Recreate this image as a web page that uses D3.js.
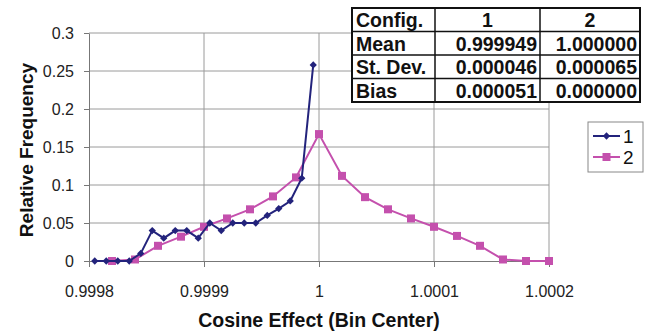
<!DOCTYPE html>
<html>
<head>
<meta charset="utf-8">
<script src="https://d3js.org/d3.v7.min.js"></script>
<style>
  body { margin: 0; background: #fff; }
  svg { display: block; font-family: "Liberation Sans", Arial, sans-serif; }
</style>
</head>
<body>
<svg width="648" height="331"></svg>
<script>
// series 1 (diamonds)
const x1 = [0.999805, 0.999815, 0.999825, 0.999835, 0.999845, 0.999855, 0.999865, 0.999875, 0.999885, 0.999895,
            0.999905, 0.999915, 0.999925, 0.999935, 0.999945, 0.999955, 0.999965, 0.999975, 0.999985, 0.999995];
const y1 = [0, 0, 0, 0, 0.01, 0.04, 0.03, 0.04, 0.04, 0.03,
            0.05, 0.04, 0.05, 0.05, 0.05, 0.06, 0.069, 0.079, 0.109, 0.258];
// series 2 (squares)
const x2 = [0.99982, 0.99984, 0.99986, 0.99988, 0.9999, 0.99992, 0.99994, 0.99996, 0.99998, 1.0,
            1.00002, 1.00004, 1.00006, 1.00008, 1.0001, 1.00012, 1.00014, 1.00016, 1.00018, 1.0002];
const y2 = [0, 0.002, 0.02, 0.032, 0.045, 0.056, 0.068, 0.085, 0.11, 0.167,
            0.112, 0.084, 0.068, 0.056, 0.045, 0.033, 0.02, 0.002, 0, 0];

const xTicks = [0.9998, 0.9999, 1, 1.0001, 1.0002];
const xTickLabels = ["0.9998", "0.9999", "1", "1.0001", "1.0002"];
const yTicks = [0, 0.05, 0.1, 0.15, 0.2, 0.25, 0.3];
const yTickLabels = ["0", "0.05", "0.1", "0.15", "0.2", "0.25", "0.3"];

const tableHead = ["Config.", "1", "2"];
const tableRows = [
  ["Mean", "0.999949", "1.000000"],
  ["St. Dev.", "0.000046", "0.000065"],
  ["Bias", "0.000051", "0.000000"]
];

const seriesNames = ["1", "2"];
const navy = "#23237c";
const pink = "#c450ad";

var svg = d3.select("svg");

var x = d3.scaleLinear().domain([0.9998, 1.0002]).range([89, 549]);
var y = d3.scaleLinear().domain([0, 0.3]).range([261, 33]);

var grid = svg.append("g").attr("class", "grid");

grid.selectAll("line.h")
    .data(yTicks.filter(d => d > 0))
    .enter().append("line")
    .attr("x1", x(0.9998)).attr("x2", x(1.0002))
    .attr("y1", d => y(d)).attr("y2", d => y(d))
    .attr("stroke", "#9a9a9a").attr("stroke-width", 1);

grid.selectAll("line.v")
    .data(xTicks.filter(d => d > 0.9998))
    .enter().append("line")
    .attr("x1", d => x(d)).attr("x2", d => x(d))
    .attr("y1", y(0)).attr("y2", y(0.3))
    .attr("stroke", "#9a9a9a").attr("stroke-width", 1);

// y axis
var yAxis = d3.axisLeft(y).tickValues(yTicks)
    .tickFormat((d, i) => yTickLabels[i]).tickSize(5).tickSizeOuter(0).tickPadding(10);
var gy = svg.append("g").attr("transform", "translate(" + x(0.9998) + ",0)").call(yAxis);
gy.select(".domain").attr("stroke", "#777");
gy.selectAll(".tick line").attr("stroke", "#777");
gy.selectAll("text").attr("font-size", 16).attr("fill", "#222")
    .attr("font-family", "Liberation Sans, Arial, sans-serif");

// x axis
var xAxis = d3.axisBottom(x).tickValues(xTicks)
    .tickFormat((d, i) => xTickLabels[i]).tickSize(6).tickSizeOuter(0).tickPadding(19);
var gx = svg.append("g").attr("transform", "translate(0," + y(0) + ")").call(xAxis);
gx.select(".domain").attr("stroke", "#777");
gx.selectAll(".tick line").attr("stroke", "#777");
gx.selectAll("text").attr("font-size", 16).attr("fill", "#222")
    .attr("font-family", "Liberation Sans, Arial, sans-serif");

// lines
var line = d3.line().x(d => x(d[0])).y(d => y(d[1]));
var pts1 = x1.map((d, i) => [d, y1[i]]);
var pts2 = x2.map((d, i) => [d, y2[i]]);

svg.append("path").datum(pts2).attr("d", line)
    .attr("fill", "none").attr("stroke", pink).attr("stroke-width", 2);
svg.selectAll("rect.s2").data(pts2).enter().append("rect")
    .attr("class", "s2")
    .attr("x", d => x(d[0]) - 4).attr("y", d => y(d[1]) - 4)
    .attr("width", 8).attr("height", 8).attr("fill", pink);

svg.append("path").datum(pts1).attr("d", line)
    .attr("fill", "none").attr("stroke", navy).attr("stroke-width", 2);
var diamond = d3.symbol().type(d3.symbolDiamond2).size(34);
svg.selectAll("path.s1").data(pts1).enter().append("path")
    .attr("class", "s1")
    .attr("d", diamond)
    .attr("transform", d => "translate(" + x(d[0]) + "," + y(d[1]) + ")")
    .attr("fill", navy);

// axis titles
svg.append("text")
    .attr("transform", "translate(33,150) rotate(-90)")
    .attr("text-anchor", "middle")
    .attr("font-size", 19).attr("font-weight", "bold").attr("fill", "#111")
    .text("Relative Frequency");
svg.append("text")
    .attr("x", 319).attr("y", 327)
    .attr("text-anchor", "middle")
    .attr("font-size", 19.5).attr("font-weight", "bold").attr("fill", "#111")
    .text("Cosine Effect (Bin Center)");

// stats table
var tX = 352, tY = 8, colW = [83, 105, 100], rowH = 23.5;
var colX = [tX, tX + colW[0], tX + colW[0] + colW[1], tX + colW[0] + colW[1] + colW[2]];
var tbl = svg.append("g").attr("class", "table");
tbl.append("rect").attr("x", tX).attr("y", tY)
    .attr("width", colX[3] - tX).attr("height", rowH * 4)
    .attr("fill", "#fff").attr("stroke", "#111").attr("stroke-width", 2);
[1, 2, 3].forEach(r => {
  tbl.append("line").attr("x1", tX).attr("x2", colX[3])
      .attr("y1", tY + r * rowH).attr("y2", tY + r * rowH)
      .attr("stroke", "#111").attr("stroke-width", 1.5);
});
[1, 2].forEach(c => {
  tbl.append("line").attr("x1", colX[c]).attr("x2", colX[c])
      .attr("y1", tY).attr("y2", tY + rowH * 4)
      .attr("stroke", "#111").attr("stroke-width", 1.5);
});
var allRows = [tableHead].concat(tableRows);
allRows.forEach((row, r) => {
  row.forEach((txt, c) => {
    var t = tbl.append("text")
        .attr("y", tY + r * rowH + 19)
        .attr("font-size", 19.5).attr("font-weight", "bold").attr("fill", "#111")
        .text(txt);
    if (c === 0) t.attr("x", colX[0] + 4);
    else if (r === 0) t.attr("x", (colX[c] + colX[c + 1]) / 2).attr("text-anchor", "middle");
    else t.attr("x", colX[c + 1] - 3).attr("text-anchor", "end");
  });
});

// legend
var leg = svg.append("g").attr("class", "legend");
leg.append("rect").attr("x", 588).attr("y", 122).attr("width", 55).attr("height", 50)
    .attr("fill", "#fff").attr("stroke", "#888").attr("stroke-width", 1);
seriesNames.forEach((name, i) => {
  var ly = 136 + i * 21;
  var col = i === 0 ? navy : pink;
  leg.append("line").attr("x1", 593).attr("x2", 620).attr("y1", ly).attr("y2", ly)
      .attr("stroke", col).attr("stroke-width", 2);
  if (i === 0) {
    leg.append("path").attr("d", diamond).attr("transform", "translate(606.5," + ly + ")").attr("fill", col);
  } else {
    leg.append("rect").attr("x", 602.5).attr("y", ly - 4).attr("width", 8).attr("height", 8).attr("fill", col);
  }
  leg.append("text").attr("x", 623).attr("y", ly + 7)
      .attr("font-size", 19).attr("fill", "#111").text(name);
});
</script>
</body>
</html>
